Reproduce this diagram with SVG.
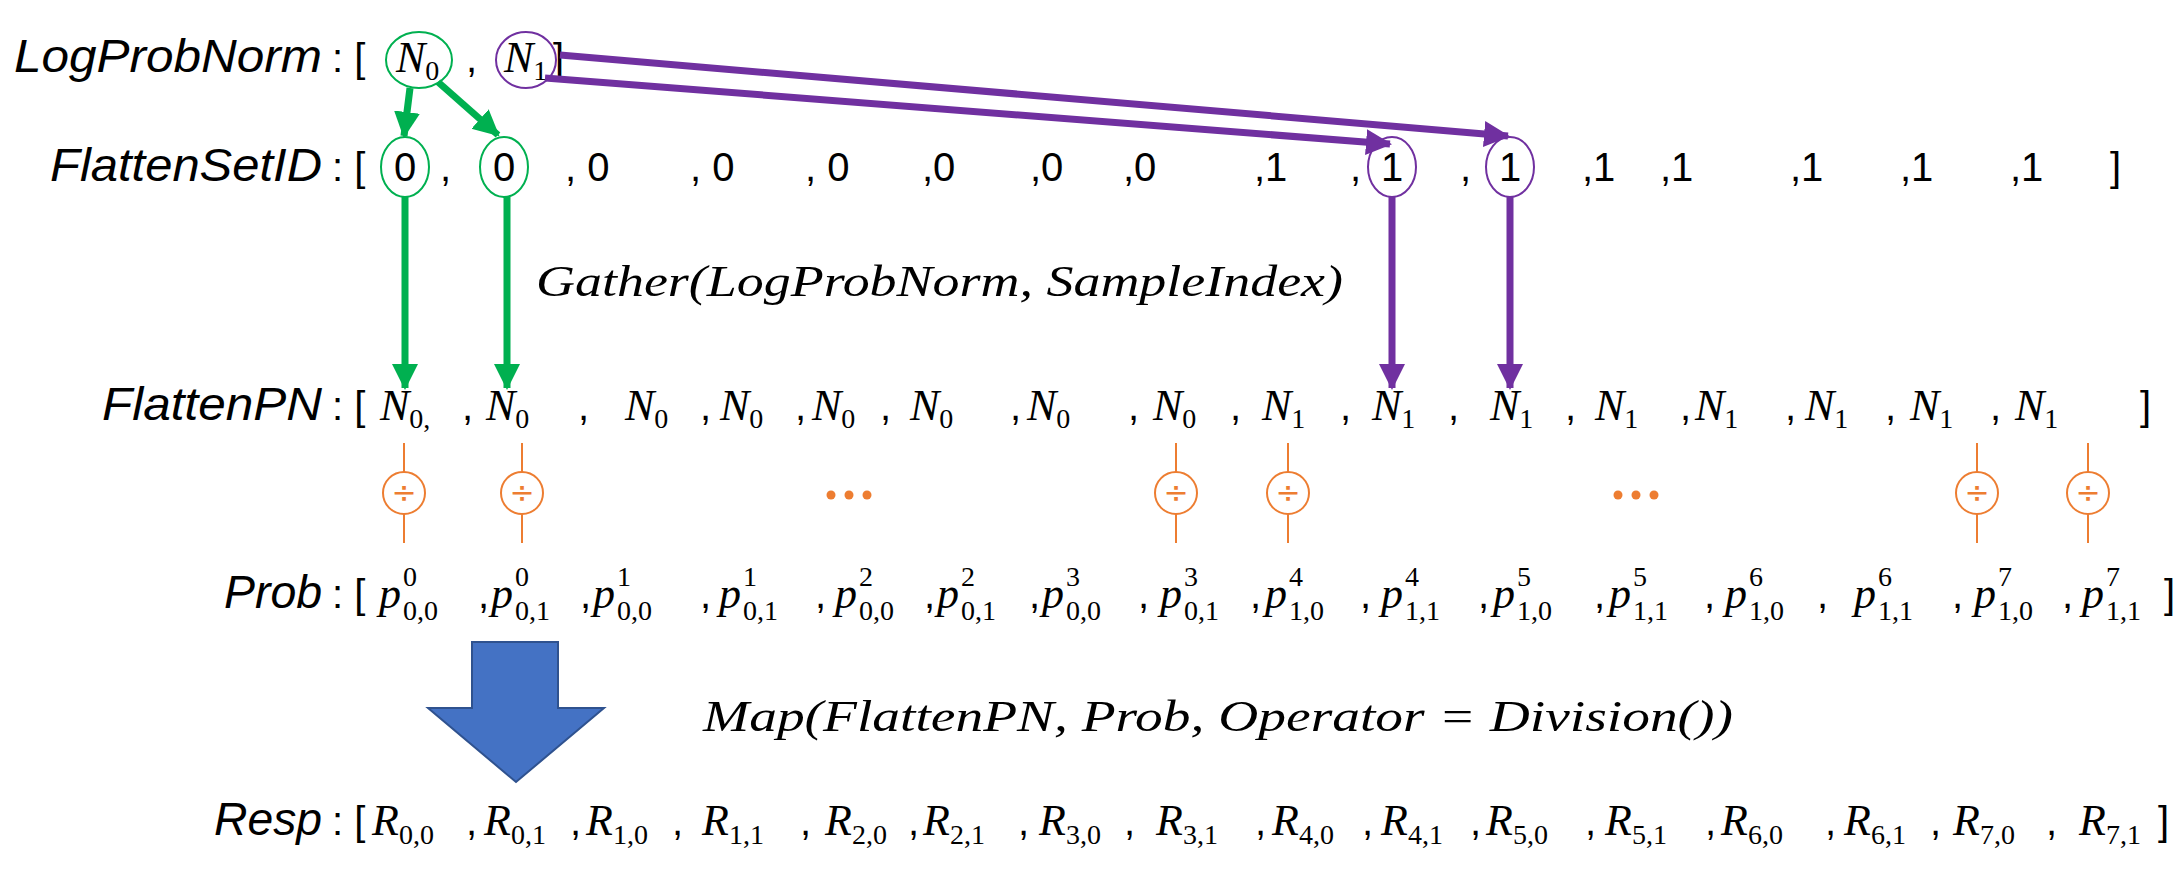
<svg xmlns="http://www.w3.org/2000/svg" width="2183" height="883" viewBox="0 0 2183 883">
<style>
.lbl{font-family:"Liberation Sans",Arial,sans-serif;font-style:italic;font-size:46px;fill:#000}
.m{font-family:"Liberation Serif","Times New Roman",serif;font-style:italic;font-size:44px;fill:#000}
.s{font-style:normal;font-size:28px}
.c{font-family:"Liberation Sans",Arial,sans-serif;font-size:40px;fill:#000}
.g{stroke:#00b050;stroke-width:7;fill:none}
.p{stroke:#7030a0;stroke-width:7;fill:none}
.o{stroke:#ed7d31;stroke-width:2;fill:#fff}
.dv{font-family:"DejaVu Sans",sans-serif;font-size:30px;fill:#ed7d31;text-anchor:middle}
</style>
<defs>
<marker id="ag" markerUnits="userSpaceOnUse" markerWidth="26" markerHeight="30" refX="24" refY="13" orient="auto"><path d="M0,0 L26,13 L0,26 z" fill="#00b050"/></marker>
<marker id="ap" markerUnits="userSpaceOnUse" markerWidth="26" markerHeight="30" refX="24" refY="13" orient="auto"><path d="M0,0 L26,13 L0,26 z" fill="#7030a0"/></marker>
</defs>
<rect width="2183" height="883" fill="#fff"/>

<g id="labels">
<text class="lbl" x="322" y="72" text-anchor="end" textLength="308" lengthAdjust="spacingAndGlyphs">LogProbNorm</text>
<text class="lbl" x="322" y="181" text-anchor="end" textLength="272" lengthAdjust="spacingAndGlyphs">FlattenSetID</text>
<text class="lbl" x="322" y="420" text-anchor="end" textLength="220" lengthAdjust="spacingAndGlyphs">FlattenPN</text>
<text class="lbl" x="322" y="608" text-anchor="end" textLength="98" lengthAdjust="spacingAndGlyphs">Prob</text>
<text class="lbl" x="322" y="835" text-anchor="end" textLength="108" lengthAdjust="spacingAndGlyphs">Resp</text>
</g>

<g id="row-logprobnorm">
<text class="c" x="332" y="72">: [</text>
<ellipse cx="419" cy="60" rx="33" ry="28" fill="none" stroke="#00b050" stroke-width="2"/>
<ellipse cx="526" cy="60" rx="30" ry="28" fill="none" stroke="#7030a0" stroke-width="2"/>
<text class="m" x="396" y="72">N<tspan class="s" dy="8">0</tspan></text>
<text class="c" x="466" y="72">,</text>
<text class="m" x="504" y="72">N<tspan class="s" dy="8">1</tspan></text>
<text class="c" x="553" y="72">]</text>
</g>

<g id="row-flattensetid" class="c">
<text x="332" y="181">: [</text>
<ellipse cx="405" cy="167" rx="24" ry="30" fill="none" stroke="#00b050" stroke-width="2"/>
<ellipse cx="504" cy="167" rx="24" ry="30" fill="none" stroke="#00b050" stroke-width="2"/>
<ellipse cx="1392" cy="167" rx="24" ry="30" fill="none" stroke="#7030a0" stroke-width="2"/>
<ellipse cx="1510" cy="167" rx="24" ry="30" fill="none" stroke="#7030a0" stroke-width="2"/>
<text x="394" y="181">0</text><text x="440" y="181">,</text>
<text x="493" y="181">0</text>
<text x="565" y="181">,  0</text>
<text x="690" y="181">,  0</text>
<text x="805" y="181">,  0</text>
<text x="922" y="181">,0</text>
<text x="1030" y="181">,0</text>
<text x="1123" y="181">,0</text>
<text x="1254" y="181">,1</text>
<text x="1350" y="181">,</text><text x="1381" y="181">1</text>
<text x="1460" y="181">,</text><text x="1499" y="181">1</text>
<text x="1582" y="181">,1</text>
<text x="1660" y="181">,1</text>
<text x="1790" y="181">,1</text>
<text x="1900" y="181">,1</text>
<text x="2010" y="181">,1</text>
<text x="2110" y="181">]</text>
</g>

<g id="gather-label">
<text class="m" x="536" y="296" font-size="40" textLength="807" lengthAdjust="spacingAndGlyphs">Gather(LogProbNorm, SampleIndex)</text>
</g>

<g id="row-flattenpn">
<text class="c" x="332" y="420">: [</text>
<text class="m" x="380" y="420">N<tspan class="s" dy="8">0,</tspan></text>
<text class="c" x="462" y="420">,</text>
<text class="m" x="486" y="420">N<tspan class="s" dy="8">0</tspan></text>
<text class="c" x="578" y="420">,</text>
<text class="m" x="625" y="420">N<tspan class="s" dy="8">0</tspan></text>
<text class="c" x="700" y="420">,</text>
<text class="m" x="720" y="420">N<tspan class="s" dy="8">0</tspan></text>
<text class="c" x="795" y="420">,</text>
<text class="m" x="812" y="420">N<tspan class="s" dy="8">0</tspan></text>
<text class="c" x="880" y="420">,</text>
<text class="m" x="910" y="420">N<tspan class="s" dy="8">0</tspan></text>
<text class="c" x="1010" y="420">,</text>
<text class="m" x="1027" y="420">N<tspan class="s" dy="8">0</tspan></text>
<text class="c" x="1128" y="420">,</text>
<text class="m" x="1153" y="420">N<tspan class="s" dy="8">0</tspan></text>
<text class="c" x="1230" y="420">,</text>
<text class="m" x="1262" y="420">N<tspan class="s" dy="8">1</tspan></text>
<text class="c" x="1340" y="420">,</text>
<text class="m" x="1372" y="420">N<tspan class="s" dy="8">1</tspan></text>
<text class="c" x="1448" y="420">,</text>
<text class="m" x="1490" y="420">N<tspan class="s" dy="8">1</tspan></text>
<text class="c" x="1565" y="420">,</text>
<text class="m" x="1595" y="420">N<tspan class="s" dy="8">1</tspan></text>
<text class="c" x="1680" y="420">,</text>
<text class="m" x="1695" y="420">N<tspan class="s" dy="8">1</tspan></text>
<text class="c" x="1785" y="420">,</text>
<text class="m" x="1805" y="420">N<tspan class="s" dy="8">1</tspan></text>
<text class="c" x="1885" y="420">,</text>
<text class="m" x="1910" y="420">N<tspan class="s" dy="8">1</tspan></text>
<text class="c" x="1990" y="420">,</text>
<text class="m" x="2015" y="420">N<tspan class="s" dy="8">1</tspan></text>
<text class="c" x="2140" y="420">]</text>
</g>

<g id="dividers">
<line x1="404" y1="443" x2="404" y2="543" stroke="#ed7d31" stroke-width="2"/>
<line x1="522" y1="443" x2="522" y2="543" stroke="#ed7d31" stroke-width="2"/>
<line x1="1176" y1="443" x2="1176" y2="543" stroke="#ed7d31" stroke-width="2"/>
<line x1="1288" y1="443" x2="1288" y2="543" stroke="#ed7d31" stroke-width="2"/>
<line x1="1977" y1="443" x2="1977" y2="543" stroke="#ed7d31" stroke-width="2"/>
<line x1="2088" y1="443" x2="2088" y2="543" stroke="#ed7d31" stroke-width="2"/>
<circle class="o" cx="404" cy="493" r="21"/><text class="dv" x="404" y="503">÷</text>
<circle class="o" cx="522" cy="493" r="21"/><text class="dv" x="522" y="503">÷</text>
<circle class="o" cx="1176" cy="493" r="21"/><text class="dv" x="1176" y="503">÷</text>
<circle class="o" cx="1288" cy="493" r="21"/><text class="dv" x="1288" y="503">÷</text>
<circle class="o" cx="1977" cy="493" r="21"/><text class="dv" x="1977" y="503">÷</text>
<circle class="o" cx="2088" cy="493" r="21"/><text class="dv" x="2088" y="503">÷</text>
<g fill="#ed7d31">
<circle cx="831" cy="495" r="4.5"/><circle cx="849" cy="495" r="4.5"/><circle cx="867" cy="495" r="4.5"/>
<circle cx="1618" cy="495" r="4.5"/><circle cx="1636" cy="495" r="4.5"/><circle cx="1654" cy="495" r="4.5"/>
</g>
</g>

<g id="row-prob">
<text class="c" x="332" y="608">: [</text>
<text class="m" x="379" y="608">p<tspan class="s" dx="2" dy="-22">0</tspan><tspan class="s" dx="-14" dy="34">0,0</tspan></text>
<text class="c" x="478" y="608">,</text><text class="m" x="491" y="608">p<tspan class="s" dx="2" dy="-22">0</tspan><tspan class="s" dx="-14" dy="34">0,1</tspan></text>
<text class="c" x="580" y="608">,</text><text class="m" x="593" y="608">p<tspan class="s" dx="2" dy="-22">1</tspan><tspan class="s" dx="-14" dy="34">0,0</tspan></text>
<text class="c" x="700" y="608">,</text><text class="m" x="719" y="608">p<tspan class="s" dx="2" dy="-22">1</tspan><tspan class="s" dx="-14" dy="34">0,1</tspan></text>
<text class="c" x="815" y="608">,</text><text class="m" x="835" y="608">p<tspan class="s" dx="2" dy="-22">2</tspan><tspan class="s" dx="-14" dy="34">0,0</tspan></text>
<text class="c" x="924" y="608">,</text><text class="m" x="937" y="608">p<tspan class="s" dx="2" dy="-22">2</tspan><tspan class="s" dx="-14" dy="34">0,1</tspan></text>
<text class="c" x="1029" y="608">,</text><text class="m" x="1042" y="608">p<tspan class="s" dx="2" dy="-22">3</tspan><tspan class="s" dx="-14" dy="34">0,0</tspan></text>
<text class="c" x="1138" y="608">,</text><text class="m" x="1160" y="608">p<tspan class="s" dx="2" dy="-22">3</tspan><tspan class="s" dx="-14" dy="34">0,1</tspan></text>
<text class="c" x="1250" y="608">,</text><text class="m" x="1265" y="608">p<tspan class="s" dx="2" dy="-22">4</tspan><tspan class="s" dx="-14" dy="34">1,0</tspan></text>
<text class="c" x="1360" y="608">,</text><text class="m" x="1381" y="608">p<tspan class="s" dx="2" dy="-22">4</tspan><tspan class="s" dx="-14" dy="34">1,1</tspan></text>
<text class="c" x="1478" y="608">,</text><text class="m" x="1493" y="608">p<tspan class="s" dx="2" dy="-22">5</tspan><tspan class="s" dx="-14" dy="34">1,0</tspan></text>
<text class="c" x="1594" y="608">,</text><text class="m" x="1609" y="608">p<tspan class="s" dx="2" dy="-22">5</tspan><tspan class="s" dx="-14" dy="34">1,1</tspan></text>
<text class="c" x="1704" y="608">,</text><text class="m" x="1725" y="608">p<tspan class="s" dx="2" dy="-22">6</tspan><tspan class="s" dx="-14" dy="34">1,0</tspan></text>
<text class="c" x="1817" y="608">,</text><text class="m" x="1854" y="608">p<tspan class="s" dx="2" dy="-22">6</tspan><tspan class="s" dx="-14" dy="34">1,1</tspan></text>
<text class="c" x="1952" y="608">,</text><text class="m" x="1974" y="608">p<tspan class="s" dx="2" dy="-22">7</tspan><tspan class="s" dx="-14" dy="34">1,0</tspan></text>
<text class="c" x="2062" y="608">,</text><text class="m" x="2082" y="608">p<tspan class="s" dx="2" dy="-22">7</tspan><tspan class="s" dx="-14" dy="34">1,1</tspan></text>
<text class="c" x="2164" y="608">]</text>
</g>

<g id="map-arrow">
<path d="M472,642 L558,642 L558,708 L604,708 L516,782 L428,708 L472,708 Z" fill="#4472c4" stroke="#2f528f" stroke-width="2"/>
</g>
<g id="map-label">
<text class="m" x="703" y="731" font-size="40" textLength="1030" lengthAdjust="spacingAndGlyphs">Map(FlattenPN, Prob, Operator = Division())</text>
</g>

<g id="row-resp">
<text class="c" x="332" y="835">: [</text>
<text class="m" x="372" y="835">R<tspan class="s" dy="9">0,0</tspan></text>
<text class="c" x="466" y="835">,</text><text class="m" x="484" y="835">R<tspan class="s" dy="9">0,1</tspan></text>
<text class="c" x="570" y="835">,</text><text class="m" x="586" y="835">R<tspan class="s" dy="9">1,0</tspan></text>
<text class="c" x="672" y="835">,</text><text class="m" x="702" y="835">R<tspan class="s" dy="9">1,1</tspan></text>
<text class="c" x="800" y="835">,</text><text class="m" x="825" y="835">R<tspan class="s" dy="9">2,0</tspan></text>
<text class="c" x="908" y="835">,</text><text class="m" x="923" y="835">R<tspan class="s" dy="9">2,1</tspan></text>
<text class="c" x="1018" y="835">,</text><text class="m" x="1039" y="835">R<tspan class="s" dy="9">3,0</tspan></text>
<text class="c" x="1124" y="835">,</text><text class="m" x="1156" y="835">R<tspan class="s" dy="9">3,1</tspan></text>
<text class="c" x="1255" y="835">,</text><text class="m" x="1272" y="835">R<tspan class="s" dy="9">4,0</tspan></text>
<text class="c" x="1362" y="835">,</text><text class="m" x="1381" y="835">R<tspan class="s" dy="9">4,1</tspan></text>
<text class="c" x="1470" y="835">,</text><text class="m" x="1486" y="835">R<tspan class="s" dy="9">5,0</tspan></text>
<text class="c" x="1585" y="835">,</text><text class="m" x="1605" y="835">R<tspan class="s" dy="9">5,1</tspan></text>
<text class="c" x="1705" y="835">,</text><text class="m" x="1721" y="835">R<tspan class="s" dy="9">6,0</tspan></text>
<text class="c" x="1825" y="835">,</text><text class="m" x="1844" y="835">R<tspan class="s" dy="9">6,1</tspan></text>
<text class="c" x="1930" y="835">,</text><text class="m" x="1953" y="835">R<tspan class="s" dy="9">7,0</tspan></text>
<text class="c" x="2046" y="835">,</text><text class="m" x="2079" y="835">R<tspan class="s" dy="9">7,1</tspan></text>
<text class="c" x="2158" y="835">]</text>
</g>

<g id="connectors">
<line class="g" x1="410" y1="88" x2="404" y2="136" marker-end="url(#ag)"/>
<line class="g" x1="438" y1="82" x2="498" y2="135" marker-end="url(#ag)"/>
<line class="g" x1="405" y1="197" x2="405" y2="388" marker-end="url(#ag)"/>
<line class="g" x1="507" y1="197" x2="507" y2="388" marker-end="url(#ag)"/>
<line class="p" x1="560" y1="55" x2="1508" y2="136" marker-end="url(#ap)"/>
<line class="p" x1="545" y1="78" x2="1390" y2="144" marker-end="url(#ap)"/>
<line class="p" x1="1392" y1="197" x2="1392" y2="388" marker-end="url(#ap)"/>
<line class="p" x1="1510" y1="197" x2="1510" y2="388" marker-end="url(#ap)"/>
</g>
</svg>
